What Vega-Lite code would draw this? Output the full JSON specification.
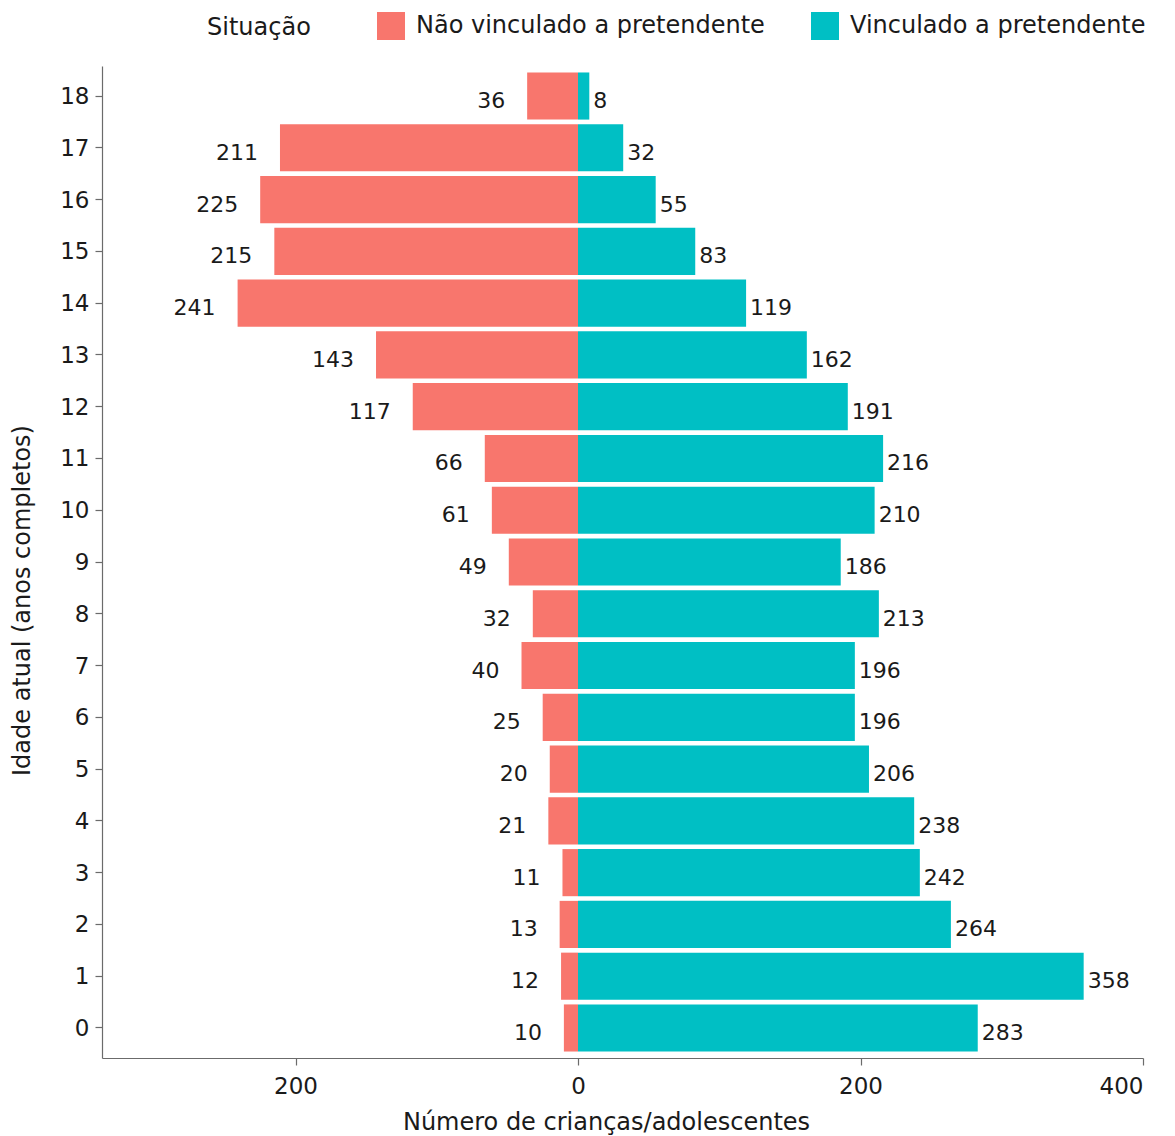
{
  "$schema": "https://vega.github.io/schema/vega-lite/v6.json",
  "width": 1041,
  "height": 992,
  "autosize": {"type": "none"},
  "padding": {"left": 102, "top": 66, "right": 32, "bottom": 78},
  "background": "white",
  "config": {
    "view": {"stroke": null},
    "font": "DejaVu Sans",
    "text": {"font": "DejaVu Sans"}
  },
  "data": {
    "values": [
      {"idade": 18, "situacao": "Não vinculado a pretendente", "n": 36},
      {"idade": 17, "situacao": "Não vinculado a pretendente", "n": 211},
      {"idade": 16, "situacao": "Não vinculado a pretendente", "n": 225},
      {"idade": 15, "situacao": "Não vinculado a pretendente", "n": 215},
      {"idade": 14, "situacao": "Não vinculado a pretendente", "n": 241},
      {"idade": 13, "situacao": "Não vinculado a pretendente", "n": 143},
      {"idade": 12, "situacao": "Não vinculado a pretendente", "n": 117},
      {"idade": 11, "situacao": "Não vinculado a pretendente", "n": 66},
      {"idade": 10, "situacao": "Não vinculado a pretendente", "n": 61},
      {"idade": 9, "situacao": "Não vinculado a pretendente", "n": 49},
      {"idade": 8, "situacao": "Não vinculado a pretendente", "n": 32},
      {"idade": 7, "situacao": "Não vinculado a pretendente", "n": 40},
      {"idade": 6, "situacao": "Não vinculado a pretendente", "n": 25},
      {"idade": 5, "situacao": "Não vinculado a pretendente", "n": 20},
      {"idade": 4, "situacao": "Não vinculado a pretendente", "n": 21},
      {"idade": 3, "situacao": "Não vinculado a pretendente", "n": 11},
      {"idade": 2, "situacao": "Não vinculado a pretendente", "n": 13},
      {"idade": 1, "situacao": "Não vinculado a pretendente", "n": 12},
      {"idade": 0, "situacao": "Não vinculado a pretendente", "n": 10},
      {"idade": 18, "situacao": "Vinculado a pretendente", "n": 8},
      {"idade": 17, "situacao": "Vinculado a pretendente", "n": 32},
      {"idade": 16, "situacao": "Vinculado a pretendente", "n": 55},
      {"idade": 15, "situacao": "Vinculado a pretendente", "n": 83},
      {"idade": 14, "situacao": "Vinculado a pretendente", "n": 119},
      {"idade": 13, "situacao": "Vinculado a pretendente", "n": 162},
      {"idade": 12, "situacao": "Vinculado a pretendente", "n": 191},
      {"idade": 11, "situacao": "Vinculado a pretendente", "n": 216},
      {"idade": 10, "situacao": "Vinculado a pretendente", "n": 210},
      {"idade": 9, "situacao": "Vinculado a pretendente", "n": 186},
      {"idade": 8, "situacao": "Vinculado a pretendente", "n": 213},
      {"idade": 7, "situacao": "Vinculado a pretendente", "n": 196},
      {"idade": 6, "situacao": "Vinculado a pretendente", "n": 196},
      {"idade": 5, "situacao": "Vinculado a pretendente", "n": 206},
      {"idade": 4, "situacao": "Vinculado a pretendente", "n": 238},
      {"idade": 3, "situacao": "Vinculado a pretendente", "n": 242},
      {"idade": 2, "situacao": "Vinculado a pretendente", "n": 264},
      {"idade": 1, "situacao": "Vinculado a pretendente", "n": 358},
      {"idade": 0, "situacao": "Vinculado a pretendente", "n": 283}
    ]
  },
  "transform": [
    {"calculate": "datum.situacao === 'Não vinculado a pretendente' ? -datum.n : datum.n", "as": "x"}
  ],
  "encoding": {
    "y": {
      "field": "idade",
      "type": "ordinal",
      "sort": "descending",
      "scale": {"paddingInner": 0.09, "paddingOuter": 0.125},
      "axis": {
        "title": "Idade atual (anos completos)",
        "titleFontSize": 24,
        "titleFontWeight": "normal",
        "titleColor": "#1a1a1a",
        "titleX": -80,
        "titleY": 534,
        "titleAngle": -90,
        "titleAlign": "center",
        "titleBaseline": "middle",
        "labelFontSize": 23,
        "labelColor": "#1a1a1a",
        "labelAngle": 0,
        "labelPadding": 6,
        "labelBaseline": "middle",
        "labelOffset": 1,
        "tickSize": 7,
        "tickColor": "#6b6b6b",
        "domainColor": "#6b6b6b",
        "domainWidth": 1.2,
        "tickWidth": 1.2
      }
    },
    "x": {
      "field": "x",
      "type": "quantitative",
      "scale": {"domain": [-337, 400], "nice": false, "zero": true},
      "axis": {
        "values": [-200, 0, 200, 400],
        "labelExpr": "abs(datum.value)",
        "grid": false,
        "title": "Número de crianças/adolescentes",
        "titleFontSize": 24,
        "titleFontWeight": "normal",
        "titleColor": "#1a1a1a",
        "titleX": 504,
        "titleY": 64,
        "titleBaseline": "middle",
        "labelFontSize": 23,
        "labelColor": "#1a1a1a",
        "labelPadding": 10,
        "tickSize": 7,
        "tickColor": "#6b6b6b",
        "domainColor": "#6b6b6b",
        "domainWidth": 1.2,
        "tickWidth": 1.2
      }
    }
  },
  "layer": [
    {
      "mark": {"type": "bar"},
      "encoding": {
        "color": {
          "field": "situacao",
          "type": "nominal",
          "scale": {
            "domain": ["Não vinculado a pretendente", "Vinculado a pretendente"],
            "range": ["#F8766D", "#00BFC4"]
          },
          "legend": {
            "title": "Situação",
            "orient": "none",
            "direction": "horizontal",
            "legendX": 105,
            "legendY": -54,
            "titleOrient": "left",
            "titleAnchor": "end",
            "titleFontSize": 24,
            "titleFontWeight": "normal",
            "titleColor": "#1a1a1a",
            "titlePadding": 66,
            "titleBaseline": "bottom",
            "labelFontSize": 24,
            "labelColor": "#1a1a1a",
            "labelOffset": 11,
            "labelLimit": 500,
            "labelBaseline": "middle",
            "symbolType": "square",
            "symbolSize": 784,
            "symbolStrokeWidth": 0,
            "symbolOpacity": 1,
            "columnPadding": 46
          }
        }
      }
    },
    {
      "transform": [{"filter": "datum.x < 0"}],
      "mark": {"type": "text", "fontSize": 22, "color": "#1a1a1a", "baseline": "middle", "align": "right", "dx": -22, "dy": 5},
      "encoding": {
        "text": {"field": "n", "type": "quantitative"}
      }
    },
    {
      "transform": [{"filter": "datum.x >= 0"}],
      "mark": {"type": "text", "fontSize": 22, "color": "#1a1a1a", "baseline": "middle", "align": "left", "dx": 4, "dy": 5},
      "encoding": {
        "text": {"field": "n", "type": "quantitative"}
      }
    }
  ]
}
